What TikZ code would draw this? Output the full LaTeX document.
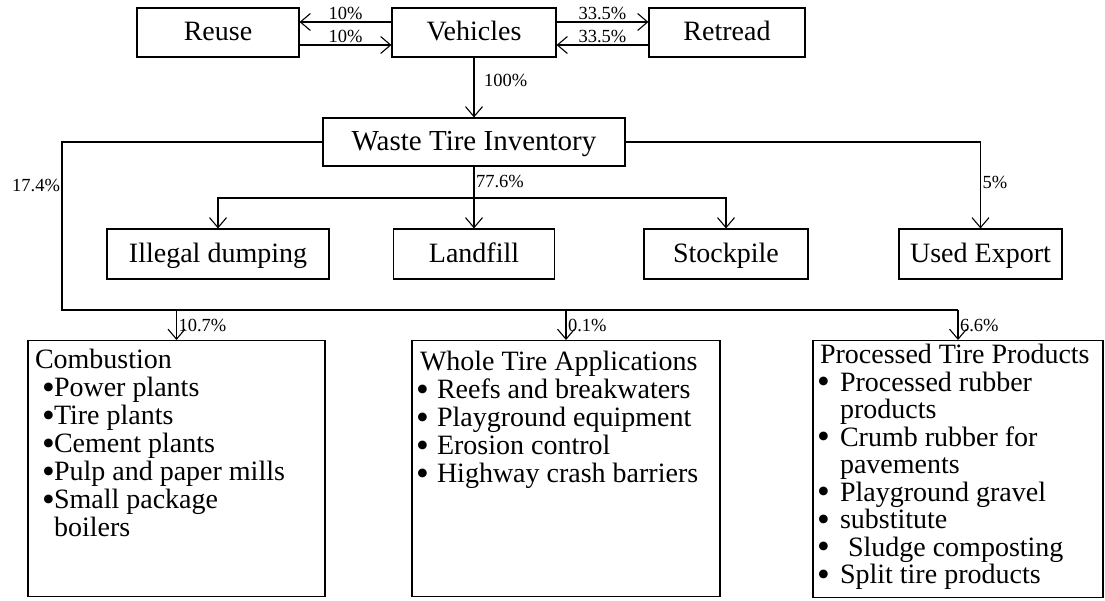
\documentclass[tikz,border=0pt]{standalone}
\usepackage{fontspec}
\setmainfont{Liberation Serif}
\usetikzlibrary{arrows.meta, calc}

\tikzset{
  flowbox/.style={draw, inner sep=0pt, minimum height=49pt, text height=22pt, text depth=6pt, font=\fontsize{28}{30}\selectfont},
  listbox/.style={draw, inner sep=0pt, anchor=north, font=\fontsize{28}{28}\selectfont},
  pct/.style={font=\fontsize{18.5}{18.5}\selectfont, inner sep=1.5pt},
}
\newcommand{\blt}[1]{\makebox[#1][l]{\smash{\raisebox{-2.8pt}{\scalebox{1.3}{\textbullet}}}}}

\begin{document}
\begin{tikzpicture}[x=1pt, y=1pt, line width=1.1pt, >={Straight Barb[length=10pt, width=17pt]}]
  \useasboundingbox (0,0) rectangle (1105,-600);
  % top row
  \node[flowbox, minimum width=162pt] (reuse) at (218,-32.5) {Reuse};
  \node[flowbox, minimum width=164pt] (vehicles) at (474,-32.5) {Vehicles};
  \node[flowbox, minimum width=156pt] (retread) at (727,-32.5) {Retread};
  \draw[->] ($(vehicles.west)+(0,10.5)$) -- ($(reuse.east)+(0,10.5)$) node[pct, midway, above] {10\%};
  \draw[->] ($(reuse.east)+(0,-12.5)$) -- ($(vehicles.west)+(0,-12.5)$) node[pct, midway, above] {10\%};
  \draw[->] ($(vehicles.east)+(0,10.5)$) -- ($(retread.west)+(0,10.5)$) node[pct, midway, above] {33.5\%};
  \draw[->] ($(retread.west)+(0,-12.5)$) -- ($(vehicles.east)+(0,-12.5)$) node[pct, midway, above] {33.5\%};

  % inventory
  \node[flowbox, minimum width=302pt, minimum height=48pt, font=\fontsize{29}{30}\selectfont] (wti) at (474,-142) {Waste Tire Inventory};
  \draw[->] (vehicles.south) -- (wti.north) node[pct, pos=0.38, right, xshift=8pt] {100\%};

  % middle row
  \node[flowbox, minimum width=222pt, minimum height=50pt] (illegal) at (218,-254) {Illegal dumping};
  \node[flowbox, minimum width=161pt, minimum height=50pt] (landfill) at (474,-254) {Landfill};
  \node[flowbox, minimum width=164pt, minimum height=50pt] (stockpile) at (726,-254) {Stockpile};
  \node[flowbox, minimum width=163pt, minimum height=50pt] (usedexport) at (980.5,-254) {Used Export};
  \coordinate (mbend) at (474,-198);
  \draw[->] (wti.south) -- (landfill.north) node[pct, pos=0.24, right] {77.6\%};
  \draw[->] (landfill.north |- mbend) -| (illegal.north);
  \draw[->] (landfill.north |- mbend) -| (stockpile.north);
  \draw[->] (wti.east) -| (usedexport.north) node[pct, pos=0.735, right] {5\%};

  % bottom row
  \node[listbox] (combustion) at (176.5,-340) {\parbox[t][256pt][t]{297pt}{%
    \hspace*{7pt}\rule{0pt}{28pt}Combustion\\
    \hspace*{14pt}\blt{12pt}Power plants\\
    \hspace*{14pt}\blt{12pt}Tire plants\\
    \hspace*{14pt}\blt{12pt}Cement plants\\
    \hspace*{14pt}\blt{12pt}Pulp and paper mills\\
    \hspace*{14pt}\blt{12pt}Small package\\
    \hspace*{26pt}boilers}};
  \node[listbox] (wholetire) at (566,-340) {\parbox[t][256pt][t]{308pt}{%
    \hspace*{8pt}\rule{0pt}{30pt}Whole Tire Applications\\
    \hspace*{4pt}\blt{21pt}Reefs and breakwaters\\
    \hspace*{4pt}\blt{21pt}Playground equipment\\
    \hspace*{4pt}\blt{21pt}Erosion control\\
    \hspace*{4pt}\blt{21pt}Highway crash barriers}};
  \node[listbox] (processed) at (958,-340) {\parbox[t][257pt][t]{290pt}{%
    \fontsize{28}{27.5}\selectfont
    \hspace*{7pt}\rule{0pt}{23pt}Processed Tire Products\\
    \hspace*{4pt}\blt{23pt}Processed rubber\\
    \hspace*{27pt}products\\
    \hspace*{4pt}\blt{23pt}Crumb rubber for\\
    \hspace*{27pt}pavements\\
    \hspace*{4pt}\blt{23pt}Playground gravel\\
    \hspace*{4pt}\blt{23pt}substitute\\
    \hspace*{4pt}\blt{31pt}Sludge composting\\
    \hspace*{4pt}\blt{23pt}Split tire products}};
  \coordinate (lbend) at (62,-310);
  \draw (wti.west) -| (lbend) node[pct, pos=0.628, left] {17.4\%} -- (processed.north |- lbend);
  \draw[->] (combustion.north |- lbend) -- (combustion.north) node[pct, midway, right] {10.7\%};
  \draw[->] (wholetire.north |- lbend) -- (wholetire.north) node[pct, midway, right] {0.1\%};
  \draw[->] (processed.north |- lbend) -- (processed.north) node[pct, midway, right] {6.6\%};
\end{tikzpicture}
\end{document}
